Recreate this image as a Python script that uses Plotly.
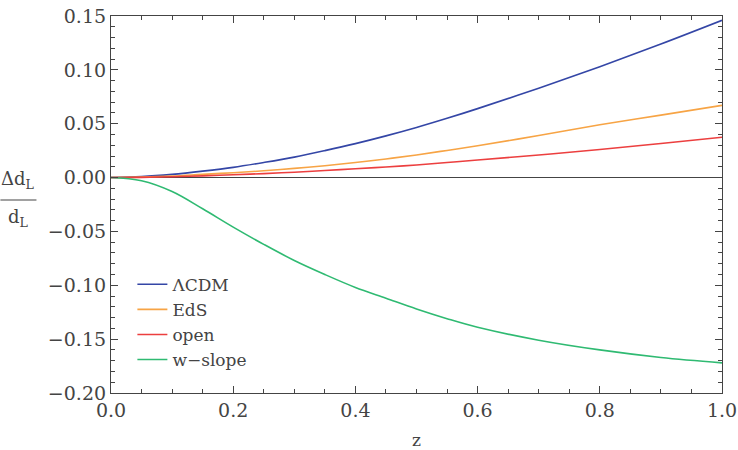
import plotly.graph_objects as go

z = [0.0, 0.05, 0.1, 0.15, 0.2, 0.25, 0.3, 0.35, 0.4, 0.45, 0.5, 0.55, 0.6, 0.7, 0.8, 0.9, 1.0]
lcdm = [0.0, 0.0009, 0.003, 0.006, 0.0095, 0.014, 0.019, 0.025, 0.0315, 0.0387, 0.0465, 0.055, 0.064, 0.083, 0.103, 0.124, 0.146]
eds = [0.0, 0.0004, 0.0014, 0.003, 0.0045, 0.0063, 0.0085, 0.011, 0.014, 0.0173, 0.021, 0.0252, 0.0296, 0.039, 0.049, 0.058, 0.067]
open_ = [0.0, 0.0002, 0.0008, 0.0016, 0.0026, 0.0037, 0.005, 0.0065, 0.0082, 0.0098, 0.0117, 0.014, 0.0163, 0.021, 0.026, 0.0317, 0.0374]
wslope = [0.0, -0.003, -0.013, -0.029, -0.046, -0.062, -0.077, -0.090, -0.102, -0.112, -0.122, -0.131, -0.139, -0.151, -0.160, -0.167, -0.172]

names = ["ΛCDM", "EdS", "open", "w\u2212slope"]
colors = ["#3446a6", "#f7a445", "#ec3f3f", "#2fba72"]
series = [lcdm, eds, open_, wslope]

FONT = "DejaVu Serif"
AX = "#444444"

fig = go.Figure()
for n, c, s in zip(names, colors, series):
    fig.add_trace(go.Scatter(x=z, y=s, mode="lines", name=n,
                             line=dict(color=c, width=1.6, shape="spline", smoothing=1.0)))

fig.update_layout(
    width=738, height=450,
    margin=dict(l=111, r=16, t=16, b=57, autoexpand=False),
    plot_bgcolor="white", paper_bgcolor="white",
    font=dict(family=FONT, size=18, color=AX),
    showlegend=True,
    legend=dict(x=0.035, y=0.335, xanchor="left", yanchor="top",
                bgcolor="rgba(0,0,0,0)", font=dict(size=17, color=AX),
                itemwidth=30, tracegroupgap=0),
)
fig.update_xaxes(range=[0, 1], tick0=0, dtick=0.2, tickformat=".1f", automargin=False,
                 showline=True, linecolor=AX, linewidth=1.2, mirror="ticks",
                 ticks="inside", ticklen=7, tickcolor=AX, tickwidth=1,
                 minor=dict(dtick=0.05, ticks="inside", ticklen=4, tickcolor=AX),
                 showgrid=False, zeroline=False,
                 tickfont=dict(family=FONT, size=19, color=AX),
                 title=dict(text="z", font=dict(family=FONT, size=17, color=AX), standoff=18))
fig.update_yaxes(range=[-0.2, 0.15], tick0=0, dtick=0.05, tickformat=".2f", automargin=False,
                 showline=True, linecolor=AX, linewidth=1.2, mirror="ticks",
                 ticks="inside", ticklen=7, tickcolor=AX, tickwidth=1,
                 minor=dict(dtick=0.01, ticks="inside", ticklen=4, tickcolor=AX),
                 showgrid=False, zeroline=True, zerolinecolor="#444444", zerolinewidth=1.3,
                 tickfont=dict(family=FONT, size=19, color=AX), ticklabelstandoff=0)

# y-axis label as a fraction
fig.add_annotation(xref="paper", yref="paper", x=-0.152, y=0.565, xanchor="center", yanchor="middle",
                   text="Δd<sub>L</sub>", showarrow=False, font=dict(family=FONT, size=18, color=AX))
fig.add_annotation(xref="paper", yref="paper", x=-0.152, y=0.465, xanchor="center", yanchor="middle",
                   text="d<sub>L</sub>", showarrow=False, font=dict(family=FONT, size=18, color=AX))
fig.add_shape(type="line", xref="paper", yref="paper", x0=-0.181, x1=-0.122, y0=0.512, y1=0.512,
              line=dict(color=AX, width=1.2))

fig.write_html("out.html")
